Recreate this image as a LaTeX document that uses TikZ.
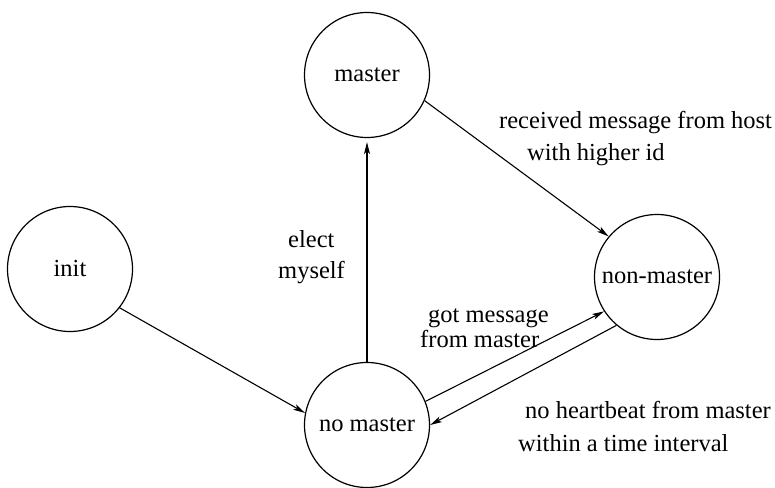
\documentclass[tikz,border=0pt]{standalone}
\usepackage{fontspec}
\setmainfont{Liberation Serif}
\newfontfamily\labelfont{Liberation Serif}
\usetikzlibrary{arrows.meta}
\begin{document}
\begin{tikzpicture}[x=1pt,y=1pt,
  state/.style={draw,circle,line width=1.2pt,minimum size=125pt,inner sep=0pt,font=\labelfont\fontsize{24.5}{28}\selectfont},
  trans/.style={line width=1.1pt,-{Stealth[length=12pt,width=6pt,inset=3pt]}},
  lbl/.style={anchor=base west,inner sep=0pt,font=\labelfont\fontsize{24.5}{28}\selectfont}]
\useasboundingbox (0,0) rectangle (775,-487);

% states
\node[state] (master)    at (367,-75)  {master};
\node[state] (init)      at (70,-269)  {init};
\node[state] (nomaster)  at (367,-425) {no master};
\node[state] (nonmaster) at (657,-277) {non-master};

% transitions
\draw[trans] (init.-38) -- (nomaster.169);
\draw[trans] (nomaster.north) -- ([yshift=-4pt]master.south);
\draw[trans] (master.-24) -- (nonmaster.140);
\draw[trans] (nomaster.22) -- (nonmaster.-147);
\draw[trans] (nonmaster.-130) -- (nomaster.0);

% transition labels
\node[lbl] (l1a) at (499,-128) {received message from host};
\node[lbl] (l1b) at (527,-160) {with higher id};
\node[lbl] (l2a) at (288,-247) {elect};
\node[lbl] (l2b) at (278,-278) {myself};
\node[lbl] (l3a) at (428,-322) {got message};
\node[lbl] (l3b) at (420,-347) {from master};
\node[lbl] (l4a) at (525,-418) {no heartbeat from master};
\node[lbl] (l4b) at (518,-451) {within a time interval};
\end{tikzpicture}
\end{document}
